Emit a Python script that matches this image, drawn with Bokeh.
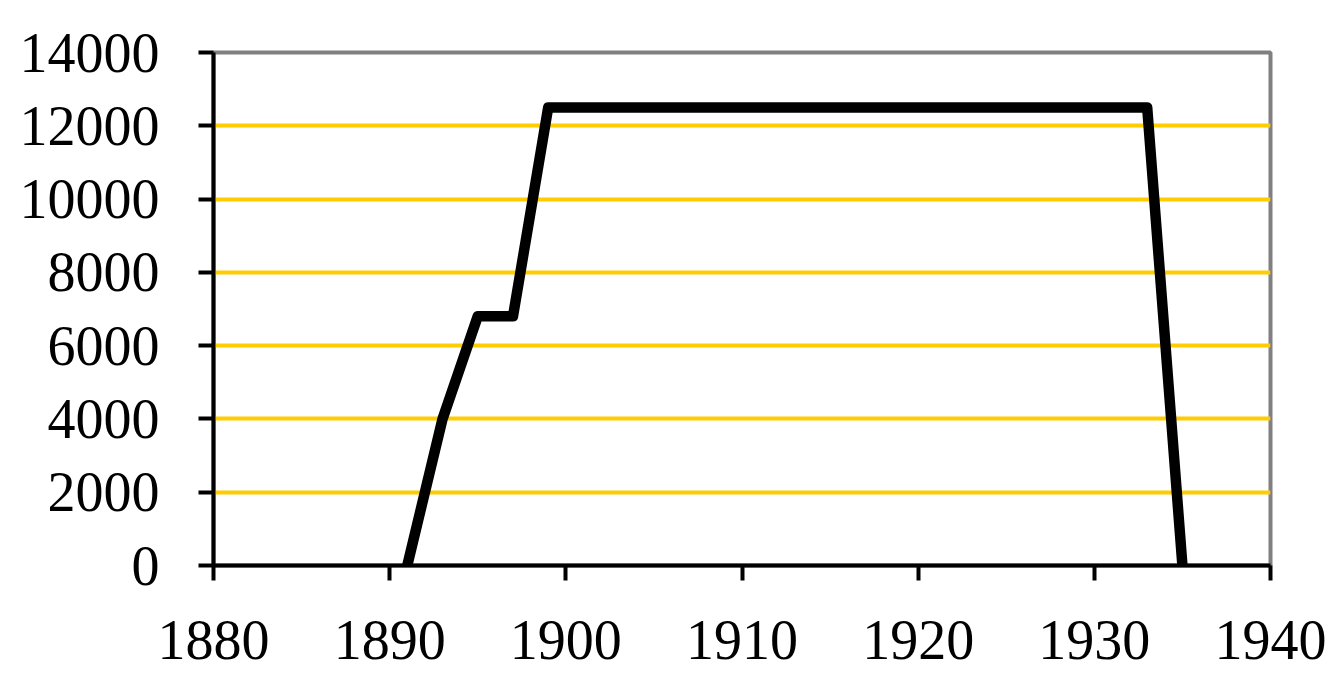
from bokeh.plotting import figure
from bokeh.models import Range1d, FixedTicker
from bokeh.embed import file_html
from bokeh.resources import INLINE

years = [1891, 1893, 1895, 1897, 1899, 1933, 1935]
values = [0, 4000, 6800, 6800, 12500, 12500, 0]
x_ticks = [1880, 1890, 1900, 1910, 1920, 1930, 1940]
y_ticks = [0, 2000, 4000, 6000, 8000, 10000, 12000, 14000]

p = figure(frame_width=1057, frame_height=513, output_backend="svg", toolbar_location=None,
           x_range=Range1d(1880, 1940), y_range=Range1d(0, 14000),
           min_border_left=213, min_border_right=60, min_border_top=52, min_border_bottom=112)
p.background_fill_color = "white"
p.border_fill_color = "white"
p.outline_line_color = "#808080"
p.outline_line_width = 4

p.xgrid.grid_line_color = None
p.ygrid.ticker = FixedTicker(ticks=[2000, 4000, 6000, 8000, 10000, 12000])
p.ygrid.grid_line_color = "#FFCC00"
p.ygrid.grid_line_width = 4

for ax in (p.xaxis[0], p.yaxis[0]):
    ax.axis_line_color = "black"
    ax.axis_line_width = 4
    ax.major_tick_line_color = "black"
    ax.major_tick_line_width = 4
    ax.major_tick_out = 15
    ax.major_tick_in = 0
    ax.minor_tick_line_color = None
    ax.major_label_text_font = "Liberation Serif"
    ax.major_label_text_font_size = "56px"
    ax.major_label_text_color = "black"

p.xaxis[0].ticker = FixedTicker(ticks=x_ticks)
p.yaxis[0].ticker = FixedTicker(ticks=y_ticks)
p.xaxis[0].major_label_standoff = 40
p.yaxis[0].major_label_standoff = 39

p.line(years, values, line_color="black", line_width=10.5, line_join="round", line_cap="round")

open("out.html", "w").write(file_html(p, INLINE))
